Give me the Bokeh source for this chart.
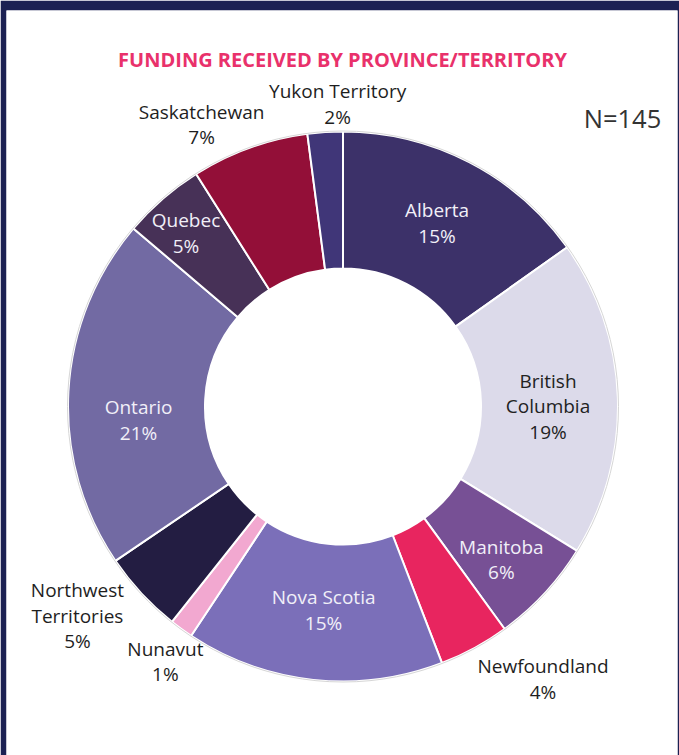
import math
from bokeh.plotting import figure
from bokeh.models import Range1d, ColumnDataSource, GlobalInlineStyleSheet
from bokeh.core.properties import value
from bokeh.embed import file_html
from bokeh.resources import INLINE

# ---------------- data ----------------
title_text = "FUNDING RECEIVED BY PROVINCE/TERRITORY"
n_text = "N=145"
provinces = ["Alberta", "British\nColumbia", "Manitoba", "Newfoundland", "Nova Scotia",
             "Nunavut", "Northwest\nTerritories", "Ontario", "Quebec", "Saskatchewan",
             "Yukon Territory"]
counts = [22, 27, 9, 6, 22, 2, 7, 30, 7, 10, 3]
slice_colors = ["#3c3169", "#dcdaea", "#775095", "#e8255f", "#7b6fb9",
                "#f2a8d0", "#231d42", "#726aa3", "#473157", "#930f38", "#403678"]

# ---------------- layout / style ----------------
W, H = 679, 755
NAVY = "#1c2153"
FONT = "Open Sans"
CX, CY = 342.5, 406          # page coords of donut centre
R_OUT, R_IN = 275, 138
label_radius = [205, 205, 221, 339, 206, 312, 339, 205, 233, 314, 301]
label_nudge = [0, 2.2, 1.4, -7.6, -0.8, -1.3, 4.4, -7.3, -1.4, -6.9, 2.7]
label_inside = [True, True, True, False, True, False, False, True, True, False, False]
LABEL_SIZE = 19
TITLE_SIZE = 20
N_SIZE = 25.5
PITCH = 25.5
BASE_SHIFT = 0.43   # empirical em offset of the svg baseline


def ydata(page_y):
    return H - page_y


def baseline(center_y, size):
    # page y of alphabetic baseline for text whose caps are centred on center_y
    return center_y + 0.714 * size / 2 - BASE_SHIFT * size


total = sum(counts)
pct = [round(100 * c / total) for c in counts]

starts, ends, mids = [], [], []
acc = 0
for c in counts:
    a0 = acc / total * 360
    acc += c
    a1 = acc / total * 360
    starts.append(a0)
    ends.append(a1)
    mids.append((a0 + a1) / 2)

wedges = ColumnDataSource(dict(
    x=[CX] * len(counts), y=[ydata(CY)] * len(counts),
    start=[math.radians(90 - a) for a in starts],
    end=[math.radians(90 - a) for a in ends],
    color=slice_colors,
))

p = figure(width=W, height=H, output_backend="svg", toolbar_location=None,
           x_range=Range1d(6, 677), y_range=Range1d(0, 745),
           x_axis_location=None, y_axis_location=None,
           min_border_left=6, min_border_right=2, min_border_top=10, min_border_bottom=0,
           border_fill_color=NAVY, background_fill_color="white")
p.outline_line_color = None
p.grid.visible = False

p.annular_wedge(x="x", y="y", inner_radius=R_IN, outer_radius=R_OUT,
                start_angle="start", end_angle="end", direction="clock",
                fill_color="color", line_color="white", line_width=2, source=wedges)
p.circle(x=[CX], y=[ydata(CY)], radius=R_OUT + 0.5, fill_color=None,
         line_color="#d6d6d6", line_width=1)

# labels
tx, ty, tt, tc = [], [], [], []
for i, name in enumerate(provinces):
    th = math.radians(mids[i] + label_nudge[i])
    lx = CX + label_radius[i] * math.sin(th)
    ly = CY - label_radius[i] * math.cos(th)
    lines = name.split("\n") + [f"{pct[i]}%"]
    n = len(lines)
    if label_inside[i]:
        col = "#222222" if slice_colors[i] == "#dcdaea" else "#f1eff8"
    else:
        col = "#1e1e1e"
    for j, line in enumerate(lines):
        cy_line = ly + (j - (n - 1) / 2) * PITCH
        tx.append(lx)
        ty.append(ydata(baseline(cy_line, LABEL_SIZE)))
        tt.append(line)
        tc.append(col)

p.text(x=tx, y=ty, text=tt, text_color=tc, text_align="center",
       text_baseline="alphabetic", text_font=value(FONT),
       text_font_size=f"{LABEL_SIZE}px")

p.text(x=[342], y=[ydata(baseline(60, TITLE_SIZE))], text=[title_text], text_color="#e9316b",
       text_align="center", text_baseline="alphabetic", text_font=value(FONT),
       text_font_style="bold", text_font_size=f"{TITLE_SIZE}px")

p.text(x=[622], y=[ydata(baseline(119, N_SIZE))], text=[n_text], text_color="#333333",
       text_align="center", text_baseline="alphabetic", text_font=value(FONT),
       text_font_size=f"{N_SIZE}px")

p.stylesheets = [GlobalInlineStyleSheet(css="html, body {margin:0; padding:0; overflow:hidden;}")]

open("out.html", "w").write(file_html(p, INLINE))
